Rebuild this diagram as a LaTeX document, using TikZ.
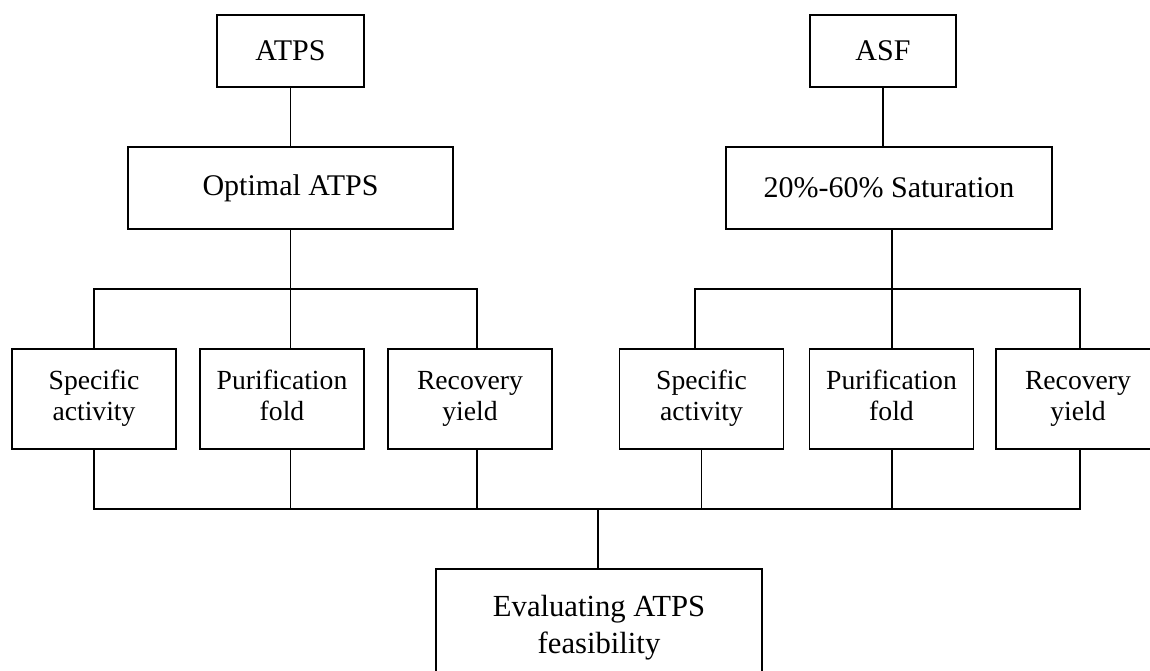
\documentclass[tikz,border=0pt]{standalone}
\usepackage{fontspec}
\setmainfont{Liberation Serif}
\begin{document}
\begin{tikzpicture}[x=0.75pt,y=-0.75pt,
  box/.style={draw,line width=1.4pt,inner sep=0pt,align=center,anchor=center},
  bigbox/.style={box,font=\fontsize{22.5}{27}\selectfont},
  smallbox/.style={box,minimum width=123pt,minimum height=75pt,font=\fontsize{20.75}{23.25}\selectfont},
  link/.style={line width=1.25pt}]
\useasboundingbox (0,0) rectangle (1150,671);
\clip (0,0) rectangle (1150,671);

% top level
\node[bigbox,minimum width=110pt,minimum height=54pt] (atps) at (290.5,51) {ATPS};
\node[bigbox,minimum width=109.5pt,minimum height=54pt] (asf) at (883,51) {ASF};

% second level
\node[bigbox,minimum width=243.75pt,minimum height=61.5pt] (opt) at (290.5,188) {Optimal ATPS};
\node[bigbox,minimum width=244.5pt,minimum height=61.5pt] (sat) at (889,188) {20\%-60\% Saturation};

% measures, left group
\node[smallbox] (L1) at (94,399) {Specific\strut\\activity\strut};
\node[smallbox] (L2) at (282,399) {Purification\strut\\fold\strut};
\node[smallbox] (L3) at (470,399) {Recovery\strut\\yield\strut};

% measures, right group
\node[smallbox] (R1) at (701.5,399) {Specific\strut\\activity\strut};
\node[smallbox] (R2) at (891.5,399) {Purification\strut\\fold\strut};
\node[smallbox] (R3) at (1078,399) {Recovery\strut\\yield\strut};

% final evaluation (its lower edge runs past the page)
\node[box,minimum width=244.5pt,minimum height=88.5pt,font=\fontsize{23}{27.75}\selectfont] (eval) at (599,628) {Evaluating ATPS\strut\\feasibility\strut};

% bus coordinates
\coordinate (bl) at (94,289);
\coordinate (br) at (477,289);
\coordinate (rl) at (695,289);
\coordinate (rm) at (892,289);
\coordinate (rr) at (1080,289);
\coordinate (bus) at (598,509);

% top connectors
\draw[link] (atps) -- (opt);
\draw[link] (asf.south) -- (sat.north -| asf.south);

% left fan-out
\draw[link] (opt.south) -- (opt.south |- bl);
\draw[link] (L1.north -| bl) -- (bl) -- (br) -- (L3.north -| br);
\draw[link] (opt.south |- bl) -- (L2.north -| opt.south);

% right fan-out
\draw[link] (sat.south -| rm) -- (rm) -- (R2.north -| rm);
\draw[link] (R1.north -| rl) -- (rl) -- (rr) -- (R3.north -| rr);

% collecting bus
\draw[link] (L1.south) -- (L1.south |- bus) -- (bus -| rr) -- (R3.south -| rr);
\draw[link] (L2.south -| opt.south) -- (bus -| opt.south);
\draw[link] (L3.south -| br) -- (bus -| br);
\draw[link] (R1.south) -- (R1.south |- bus);
\draw[link] (R2.south -| rm) -- (bus -| rm);
\draw[link] (bus) -- (eval.north -| bus);
\end{tikzpicture}
\end{document}
